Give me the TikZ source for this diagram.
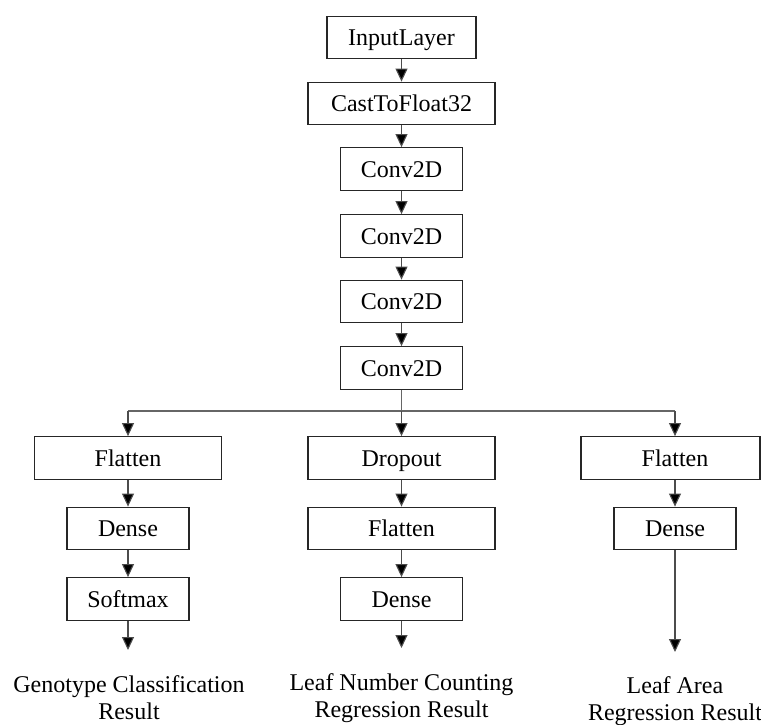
\documentclass[tikz,border=0pt]{standalone}
\usepackage{fontspec}
\setmainfont{Liberation Serif}
\usetikzlibrary{arrows.meta}
\begin{document}
\begin{tikzpicture}[x=1pt,y=-1pt,
  layer/.style={draw=black!85, line width=1.3pt, minimum height=42.5pt, inner sep=0pt,
                text height=18pt, text depth=2pt,
                font=\fontsize{24}{27}\selectfont},
  wide/.style={layer, minimum width=187pt},
  narrow/.style={layer, minimum width=122pt},
  flow/.style={draw=black!70, line width=1.1pt, -{Triangle[length=13pt,width=12pt,fill=black]}},
  wire/.style={draw=black!60, line width=1.1pt},
  result/.style={align=center, inner sep=0pt, anchor=north, font=\fontsize{24}{27}\selectfont}
]
\useasboundingbox (0,0) rectangle (761,724);

% shared trunk
\node[layer, minimum width=149pt] (in)   at (401.5,37.5)  {InputLayer};
\node[wide]   (cast) at (401.5,103.5) {CastToFloat32};
\node[narrow] (c1)   at (401.5,169)   {Conv2D};
\node[narrow] (c2)   at (401.5,236)   {Conv2D};
\node[narrow] (c3)   at (401.5,301.5) {Conv2D};
\node[narrow] (c4)   at (401.5,368)   {Conv2D};

\draw[flow] (in) -- (cast);
\draw[flow] (cast) -- (c1);
\draw[flow] (c1) -- (c2);
\draw[flow] (c2) -- (c3);
\draw[flow] (c3) -- (c4);

% split into three heads
\coordinate (split)  at (401.5,411);
\coordinate (splitL) at (128,411);
\coordinate (splitR) at (675,411);
\draw[wire] (c4.south) -- (split);
\draw[wire] (splitL) -- (splitR);

% genotype classification head
\node[wide]   (lflat)  at (128,458)   {Flatten};
\node[narrow] (ldense) at (128,528.5) {Dense};
\node[narrow] (lsoft)  at (128,599)   {Softmax};
\coordinate (ltip) at (128,650);
\node[result] (lres) at (129,675) {Genotype Classification\\Result};
\draw[flow] (splitL) -- (lflat);
\draw[flow] (lflat) -- (ldense);
\draw[flow] (ldense) -- (lsoft);
\draw[flow] (lsoft) -- (ltip);

% leaf number counting head
\node[wide]   (mdrop)  at (401.5,458)   {Dropout};
\node[wide]   (mflat)  at (401.5,528.5) {Flatten};
\node[narrow] (mdense) at (401.5,599)   {Dense};
\coordinate (mtip) at (401.5,648);
\node[result] (mres) at (401.5,673) {Leaf Number Counting\\Regression Result};
\draw[flow] (split) -- (mdrop);
\draw[flow] (mdrop) -- (mflat);
\draw[flow] (mflat) -- (mdense);
\draw[flow] (mdense) -- (mtip);

% leaf area head
\node[layer, minimum width=179pt] (rflat) at (670.5,458) {\hspace*{9pt}Flatten};
\node[narrow] (rdense) at (675,528.5) {Dense};
\coordinate (rtip) at (675,652);
\node[result] (rres) at (675,676) {Leaf Area\\Regression Result};
\draw[flow] (splitR) -- (splitR |- rflat.north);
\draw[flow] (splitR |- rflat.south) -- (rdense);
\draw[flow] (rdense) -- (rtip);
\end{tikzpicture}
\end{document}
